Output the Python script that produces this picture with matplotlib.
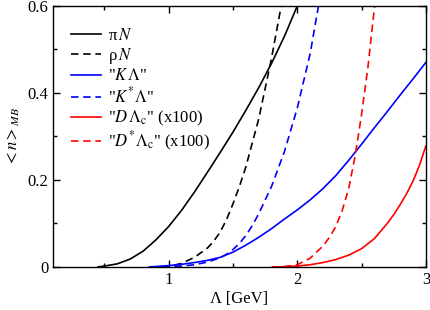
import matplotlib
matplotlib.use("Agg")
import matplotlib.pyplot as plt
from matplotlib.ticker import FixedLocator

# pi N (solid black)
piN_x = [0.45, 0.5, 0.6, 0.7, 0.8, 0.9, 1.0, 1.1, 1.2, 1.3, 1.4, 1.5, 1.6, 1.7, 1.8, 1.9, 2.0, 2.05]
piN_y = [0.0, 0.002, 0.007, 0.018, 0.036, 0.062, 0.093, 0.13, 0.172, 0.217, 0.263, 0.31, 0.36, 0.412, 0.468, 0.53, 0.6, 0.635]

# rho N (dashed black)
rhoN_x = [0.95, 1.0, 1.1, 1.2, 1.3, 1.35, 1.4, 1.45, 1.5, 1.55, 1.6, 1.7, 1.8, 1.875, 1.9]
rhoN_y = [0.0, 0.001, 0.008, 0.022, 0.043, 0.059, 0.08, 0.109, 0.145, 0.185, 0.23, 0.34, 0.48, 0.6, 0.645]

# "K Lambda" (solid blue)
KL_x = [0.85, 1.0, 1.1, 1.2, 1.3, 1.4, 1.5, 1.6, 1.7, 1.8, 1.9, 2.0, 2.1, 2.2, 2.3, 2.4,
        2.5, 2.6, 2.7, 2.8, 2.9, 3.0]
KL_y = [0.0, 0.003, 0.006, 0.01, 0.015, 0.022, 0.034, 0.05, 0.068, 0.088, 0.11, 0.131, 0.154,
        0.18, 0.21, 0.245, 0.282, 0.32, 0.357, 0.395, 0.432, 0.47]

# "K* Lambda" (dashed blue)
KsL_x = [0.95, 1.1, 1.2, 1.3, 1.4, 1.45, 1.5, 1.55, 1.6, 1.65, 1.7, 1.8, 1.9, 2.0, 2.1, 2.165, 2.2]
KsL_y = [0.0, 0.002, 0.005, 0.011, 0.021, 0.029, 0.04, 0.054, 0.072, 0.095, 0.122, 0.185,
         0.265, 0.365, 0.49, 0.6, 0.66]

# "D Lambda_c" x100 (solid red)
DL_x = [1.85, 2.0, 2.1, 2.2, 2.3, 2.4, 2.5, 2.6, 2.7, 2.75, 2.8, 2.85, 2.9, 2.95, 3.0]
DL_y = [0.0, 0.002, 0.005, 0.01, 0.017, 0.027, 0.042, 0.065, 0.1, 0.12, 0.143, 0.168, 0.197,
        0.233, 0.278]

# "D* Lambda_c" x100 (dashed red)
DsL_x = [1.8, 1.9, 2.0, 2.1, 2.2, 2.25, 2.3, 2.35, 2.4, 2.45, 2.5, 2.55, 2.6, 2.62]
DsL_y = [0.0, 0.0005, 0.005, 0.02, 0.048, 0.068, 0.093, 0.13, 0.18, 0.255, 0.35, 0.46, 0.595, 0.66]

plt.rcParams["font.family"] = ["Liberation Serif", "DejaVu Serif"]
plt.rcParams["mathtext.fontset"] = "stix"
plt.rcParams["font.size"] = 12

fig = plt.figure(figsize=(4.31, 3.10), dpi=100)
ax = fig.add_axes([0.123, 0.139, 0.865, 0.842])

lw = 1.2
dash = (0, (4.5, 2.8))
ax.plot(piN_x, piN_y, color="black", lw=lw, label="π$\\,N$")
ax.plot(rhoN_x, rhoN_y, color="black", lw=lw, ls=dash, label="ρ$\\,N$")
ax.plot(KL_x, KL_y, color="blue", lw=lw, label='"$K\\,\\Lambda$"')
ax.plot(KsL_x, KsL_y, color="blue", lw=lw, ls=dash, label='"$K^{*}\\Lambda$"')
ax.plot(DL_x, DL_y, color="red", lw=lw, label='"$D\\,\\Lambda_{\\rm c}$" (x100)')
ax.plot(DsL_x, DsL_y, color="red", lw=lw, ls=dash, label='"$D^{*}\\Lambda_{\\rm c}$" (x100)')

ax.set_xlim(0.1, 3.0)
ax.set_ylim(0, 0.6)
ax.xaxis.set_major_locator(FixedLocator([1, 2, 3]))
ax.xaxis.set_minor_locator(FixedLocator([0.5, 1.5, 2.5]))
ax.yaxis.set_major_locator(FixedLocator([0, 0.2, 0.4, 0.6]))
ax.yaxis.set_minor_locator(FixedLocator([0.1, 0.3, 0.5]))
ax.set_yticklabels(["0", "0.2", "0.4", "0.6"])
ax.tick_params(which="both", direction="in", top=True, right=True, width=1.0)
ax.tick_params(which="major", length=5)
ax.tick_params(which="minor", length=3)
for s in ax.spines.values():
    s.set_linewidth(1.0)

ax.set_xlabel("Λ [GeV]", labelpad=2)
ax.set_ylabel("$<n>_{MB}$", labelpad=4)

ax.legend(loc="upper left", frameon=False, handlelength=1.8, handletextpad=0.4,
          labelspacing=0.13, borderaxespad=0.7, bbox_to_anchor=(0.0, 0.985))

fig.savefig("out.png", dpi=100)
